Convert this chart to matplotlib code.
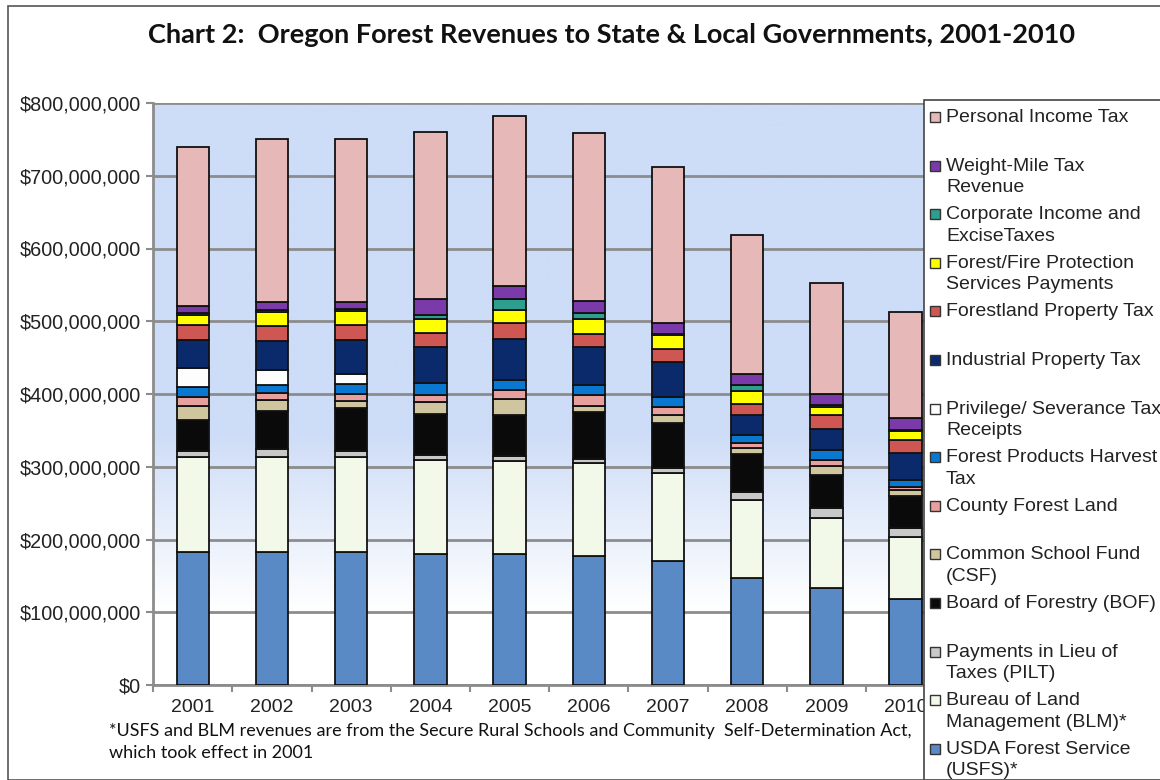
import numpy as np
import matplotlib
matplotlib.use("Agg")
from matplotlib import pyplot as plt
from matplotlib.patches import Rectangle
from matplotlib.ticker import FuncFormatter

years = ["2001", "2002", "2003", "2004", "2005", "2006", "2007", "2008", "2009", "2010"]

# values in millions of dollars, bottom of the stack first
usfs = [183, 183, 183, 180, 180, 177, 171, 147.5, 133, 118]
blm = [131, 131, 131, 129, 128, 127.5, 121, 107, 96, 85]
pilt = [8, 10, 7, 7, 7, 6, 6, 10.5, 14, 12.5]
bof = [42, 52, 60, 56, 56, 65, 62, 52.5, 46, 44]
csf = [19.5, 16, 9, 17, 22, 8, 11.5, 8.5, 11.5, 9]
county = [13, 9, 10, 10, 13, 15.5, 10, 7, 9, 3]
fpht = [13, 12, 14, 16, 13, 14, 14, 10.5, 13, 10.5]
privilege = [26, 20, 14, 0, 0, 0, 0, 0, 0, 0]
industrial = [39, 40, 46, 50, 57, 52, 49, 27.5, 30, 36.5]
forestland = [20, 21, 21, 19, 22, 18, 17.5, 15, 19, 18.5]
fire = [14, 19, 19, 19, 18, 19.5, 19, 18, 10, 12]
corporate = [3, 3, 3, 6, 14, 9, 2, 9, 3, 2]
weight_mile = [10, 10, 10, 22, 19, 17, 15, 15, 15.5, 16]
personal = [218, 224.5, 223.5, 229, 233, 230, 214, 190.5, 152.5, 145.5]

series = [
    ("USDA Forest Service\n(USFS)*", usfs, "#5a8ac6"),
    ("Bureau of Land\nManagement (BLM)*", blm, "#f3f9e9"),
    ("Payments in Lieu of\nTaxes (PILT)", pilt, "#c8c8c8"),
    ("Board of Forestry (BOF)", bof, "#0a0a0a"),
    ("Common School Fund\n(CSF)", csf, "#cfc6a0"),
    ("County Forest Land", county, "#e8a09e"),
    ("Forest Products Harvest\nTax", fpht, "#0a78d0"),
    ("Privilege/ Severance Tax\nReceipts", privilege, "#fdfdfd"),
    ("Industrial Property Tax", industrial, "#0b2a6b"),
    ("Forestland Property Tax", forestland, "#cf5753"),
    ("Forest/Fire Protection\nServices Payments", fire, "#ffff00"),
    ("Corporate Income and\nExciseTaxes", corporate, "#2e9e8f"),
    ("Weight-Mile Tax\nRevenue", weight_mile, "#7a3aaa"),
    ("Personal Income Tax", personal, "#e6b8b7"),
]

W, H = 1160, 780
fig = plt.figure(figsize=(W / 100, H / 100), dpi=100)
ax = fig.add_axes([153.2 / W, 1 - 685 / H, 792 / W, 582 / H])

# background gradient: blue at top fading to white at $100M
ymax = 800e6
yy = np.linspace(0, ymax, 400)
t = np.clip((yy - 100e6) / (350e6 - 100e6), 0, 1)
t[yy < 100e6] = 0
blue = np.array([205, 220, 247]) / 255.0
white = np.array([1.0, 1.0, 1.0])
grad = white[None, :] * (1 - t[:, None]) + blue[None, :] * t[:, None]
grad = np.repeat(grad[:, None, :], 2, axis=1)
ax.imshow(grad, extent=[-0.5, 9.5, 0, ymax], origin="lower", aspect="auto", zorder=0)

x = np.arange(len(years))
bottom = np.zeros(len(years))
for label, vals, color in series:
    v = np.array(vals) * 1e6
    ax.bar(x, v, 0.41, bottom=bottom, color=color, edgecolor="#111111", linewidth=1.3, zorder=3)
    bottom += v

ax.set_xlim(-0.5, 9.5)
ax.set_ylim(0, ymax)
ax.set_yticks(np.arange(0, 800e6 + 1, 100e6))
ax.yaxis.set_major_formatter(FuncFormatter(lambda v, p: "${:,.0f}".format(v)))
ax.set_xticks(x)
ax.set_xticklabels(years)
ax.set_xticks(np.arange(-0.5, 10, 1), minor=True)
ax.tick_params(axis="x", which="major", length=0, pad=10, labelsize=14, labelcolor="#222222")
ax.tick_params(axis="x", which="minor", length=5, width=1.5, color="#8c8c8c")
ax.tick_params(axis="y", length=5, width=1.5, color="#8c8c8c", pad=4, labelsize=14.3, labelcolor="#222222")
for lab in ax.get_xticklabels() + ax.get_yticklabels():
    lab.set_fontfamily("Liberation Sans")

ax.yaxis.grid(True, color="#8c8c8c", linewidth=2, zorder=1)
ax.set_axisbelow(True)
for s in ["top", "right"]:
    ax.spines[s].set_visible(False)
for s in ["left", "bottom"]:
    ax.spines[s].set_color("#8c8c8c")
    ax.spines[s].set_linewidth(2)

# outer frame
fig.patches.append(Rectangle((8 / W, 0), 1.0, 1 - 6 / H, transform=fig.transFigure,
                             fill=False, edgecolor="#555555", linewidth=1.2, zorder=0))

fig.text(611 / W, 1 - 35 / H, "Chart 2:  Oregon Forest Revenues to State & Local Governments, 2001-2010",
         ha="center", va="center", fontsize=19.5, fontweight="bold", fontfamily="Lato", color="#111111")

fig.text(109 / W, 1 - 731 / H,
         "*USFS and BLM revenues are from the Secure Rural Schools and Community  Self-Determination Act,",
         ha="left", va="center", fontsize=13, fontfamily="Lato", color="#111111")
fig.text(109 / W, 1 - 753 / H, "which took effect in 2001",
         ha="left", va="center", fontsize=13, fontfamily="Lato", color="#111111")

# legend drawn by hand, top entry is the top of the stack
fig.patches.append(Rectangle((924 / W, 0), 1.0, 1 - 100 / H, transform=fig.transFigure,
                             facecolor="white", edgecolor="#444444", linewidth=1.2, zorder=5))
for i, (label, vals, color) in enumerate(series[::-1]):
    yc = 117 + i * 48.6
    fig.patches.append(Rectangle((930 / W, 1 - (yc + 5) / H), 10 / W, 10 / H, transform=fig.transFigure,
                                 facecolor=color, edgecolor="#333333", linewidth=1, zorder=6))
    fig.text(946 / W, 1 - (yc - 8) / H, label, ha="left", va="top", fontsize=14,
             fontfamily="Liberation Sans", color="#222222", linespacing=1.36, zorder=7)

fig.savefig("out.png", dpi=100)
